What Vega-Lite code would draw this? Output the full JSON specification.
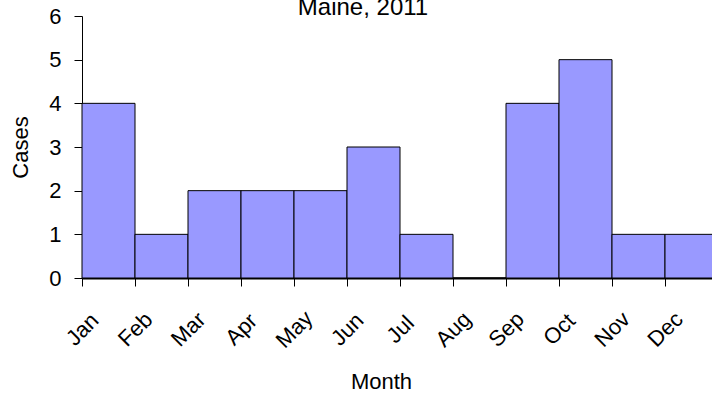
{
  "$schema": "https://vega.github.io/schema/vega-lite/v6.json",
  "autosize": "none",
  "padding": {"left": 82, "top": 16, "right": 0, "bottom": 124},
  "width": 636,
  "height": 262,
  "background": "white",
  "title": {"text": "Maine, 2011", "frame": "group", "fontSize": 24, "font": "Liberation Sans", "fontWeight": "normal", "color": "black", "baseline": "alphabetic", "offset": -34, "dx": -37},
  "data": {"values": [
    {"Month": "Jan", "Cases": 4},
    {"Month": "Feb", "Cases": 1},
    {"Month": "Mar", "Cases": 2},
    {"Month": "Apr", "Cases": 2},
    {"Month": "May", "Cases": 2},
    {"Month": "Jun", "Cases": 3},
    {"Month": "Jul", "Cases": 1},
    {"Month": "Aug", "Cases": 0},
    {"Month": "Sep", "Cases": 4},
    {"Month": "Oct", "Cases": 5},
    {"Month": "Nov", "Cases": 1},
    {"Month": "Dec", "Cases": 1}
  ]},
  "mark": {"type": "bar", "fill": "#9999FF", "stroke": "black", "strokeWidth": 1, "clip": false},
  "encoding": {
    "x": {
      "field": "Month", "type": "ordinal", "sort": null,
      "scale": {"paddingInner": 0, "paddingOuter": 0},
      "axis": {
        "title": "Month", "tickBand": "extent", "labelAngle": -45, "labelAlign": "center", "labelBaseline": "middle",
        "labelOffset": -26.5, "labelPadding": 43, "tickSize": 8, "tickColor": "black", "domainColor": "black", "domainWidth": 2,
        "labelFontSize": 22, "labelFont": "Liberation Sans", "labelColor": "black",
        "titleFontSize": 22, "titleFont": "Liberation Sans", "titleFontWeight": "normal", "titleColor": "black",
        "titleX": 299, "titleY": 110, "titleAlign": "center", "titleBaseline": "alphabetic"
      }
    },
    "y": {
      "field": "Cases", "type": "quantitative",
      "scale": {"domain": [0, 6], "nice": false},
      "axis": {
        "title": "Cases", "values": [0, 1, 2, 3, 4, 5, 6], "grid": false, "tickSize": 8, "labelPadding": 13,
        "tickColor": "black", "domainColor": "black", "domainWidth": 1,
        "labelFontSize": 22, "labelFont": "Liberation Sans", "labelColor": "black",
        "titleFontSize": 22, "titleFont": "Liberation Sans", "titleFontWeight": "normal", "titleColor": "black", "titlePadding": 16
      }
    }
  },
  "config": {"view": {"stroke": null}}
}
